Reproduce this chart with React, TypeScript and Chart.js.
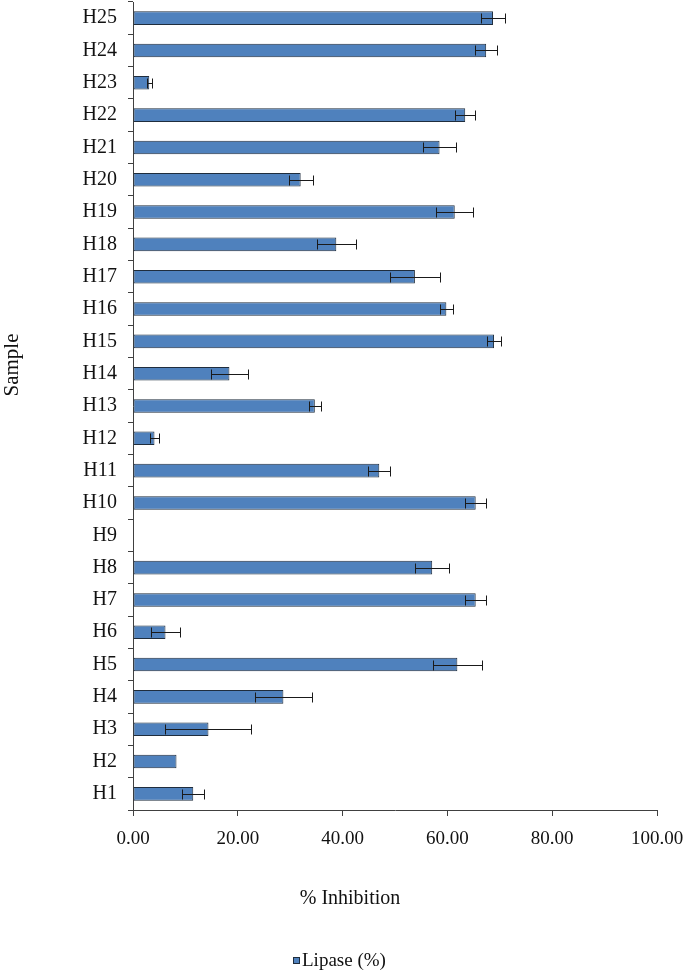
import React, { useEffect, useRef } from "react";
import { Chart, registerables } from "chart.js";

Chart.register(...registerables);

const categories = [
  "H1", "H2", "H3", "H4", "H5", "H6", "H7", "H8", "H9", "H10",
  "H11", "H12", "H13", "H14", "H15", "H16", "H17", "H18", "H19", "H20",
  "H21", "H22", "H23", "H24", "H25",
];

const lipase: (number | null)[] = [
  11.5, 8.3, 14.4, 28.7, 61.9, 6.2, 65.4, 57.1, null, 65.4,
  47.0, 4.1, 34.7, 18.4, 68.9, 59.8, 53.8, 38.8, 61.4, 32.0,
  58.5, 63.4, 3.1, 67.4, 68.7,
];

const lipaseErr = [
  2.1, 0, 8.2, 5.4, 4.7, 2.8, 2.0, 3.3, 0, 2.0,
  2.1, 0.9, 1.2, 3.5, 1.25, 1.25, 4.7, 3.7, 3.5, 2.3,
  3.1, 1.96, 0.46, 2.1, 2.35,
];

const xTicks = [0, 20, 40, 60, 80, 100];

const seriesName = "Lipase (%)";
const xTitle = "% Inhibition";
const yTitle = "Sample";

const SERIF = "'Liberation Serif', 'Times New Roman', serif";
const BAR_FILL = "#4F81BD";
const BAR_EDGE = "#1f2d3d";
const AXIS = "#404040";

const errorBarPlugin = {
  id: "errorBars",
  afterDatasetsDraw(chart: any) {
    const meta = chart.getDatasetMeta(0);
    const xs = chart.scales.x;
    const ctx = chart.ctx;
    ctx.save();
    ctx.strokeStyle = "#1a1a1a";
    ctx.lineWidth = 1;
    meta.data.forEach((bar: any, i: number) => {
      const v = lipase[i];
      const e = lipaseErr[i];
      if (v == null || !e) return;
      const y = Math.round(bar.y) + 0.5;
      const x1 = Math.round(xs.getPixelForValue(v - e)) + 0.5;
      const x2 = Math.round(xs.getPixelForValue(v + e)) + 0.5;
      ctx.beginPath();
      ctx.moveTo(x1, y);
      ctx.lineTo(x2, y);
      ctx.moveTo(x1, y - 5);
      ctx.lineTo(x1, y + 5);
      ctx.moveTo(x2, y - 5);
      ctx.lineTo(x2, y + 5);
      ctx.stroke();
    });
    ctx.restore();
  },
};

const titlesPlugin = {
  id: "titlesLegend",
  afterDraw(chart: any) {
    const ctx = chart.ctx;
    ctx.save();
    ctx.fillStyle = "#111";
    ctx.font = `20px ${SERIF}`;
    ctx.textAlign = "center";
    ctx.textBaseline = "middle";
    ctx.fillText(xTitle, 350, 899);
    ctx.save();
    ctx.translate(12, 365);
    ctx.rotate(-Math.PI / 2);
    ctx.font = `21px ${SERIF}`;
    ctx.fillText(yTitle, 0, 0);
    ctx.restore();
    ctx.fillStyle = BAR_FILL;
    ctx.fillRect(293, 957, 7, 7);
    ctx.strokeStyle = BAR_EDGE;
    ctx.lineWidth = 1;
    ctx.strokeRect(293.5, 957.5, 6, 6);
    ctx.fillStyle = "#111";
    ctx.font = `19px ${SERIF}`;
    ctx.textAlign = "left";
    ctx.fillText(seriesName, 302, 961);
    ctx.restore();
  },
};

export default function App() {
  const canvasRef = useRef<HTMLCanvasElement | null>(null);

  useEffect(() => {
    document.body.style.margin = "0";
    const canvas = canvasRef.current;
    if (!canvas) return;
    const chart = new Chart(canvas, {
      type: "bar",
      data: {
        labels: categories,
        datasets: [
          {
            label: seriesName,
            data: lipase,
            backgroundColor: BAR_FILL,
            borderColor: BAR_EDGE,
            borderWidth: 1,
            borderSkipped: false,
            categoryPercentage: 1,
            barPercentage: 0.42,
          },
        ],
      },
      options: {
        indexAxis: "y",
        responsive: false,
        animation: false,
        devicePixelRatio: 1,
        layout: { padding: { top: 2, right: 28, left: 0, bottom: 0 } },
        plugins: {
          legend: { display: false },
          tooltip: { enabled: false },
          title: { display: false },
        },
        scales: {
          x: {
            type: "linear",
            min: 0,
            max: 100,
            afterBuildTicks: (scale: any) => {
              scale.ticks = xTicks.map((v) => ({ value: v }));
            },
            afterFit: (scale: any) => {
              scale.height = 164;
              scale.paddingLeft = 0;
              scale.paddingRight = 0;
            },
            ticks: {
              color: "#111",
              font: { family: SERIF, size: 19 },
              padding: 12,
              maxRotation: 0,
              callback: (v: any) => Number(v).toFixed(2),
            },
            grid: {
              drawOnChartArea: false,
              drawTicks: true,
              tickLength: 6,
              color: AXIS,
              lineWidth: 1,
            },
            border: { display: true, color: AXIS, width: 1 },
          },
          y: {
            type: "category",
            reverse: true,
            offset: true,
            afterFit: (scale: any) => {
              scale.width = 133;
              scale.paddingTop = 0;
              scale.paddingBottom = 0;
            },
            ticks: {
              color: "#111",
              font: { family: SERIF, size: 20 },
              padding: 11,
            },
            grid: {
              offset: true,
              drawOnChartArea: false,
              drawTicks: true,
              tickLength: 5,
              color: AXIS,
              lineWidth: 1,
            },
            border: { display: true, color: AXIS, width: 1 },
          },
        },
      },
      plugins: [errorBarPlugin, titlesPlugin],
    });
    return () => chart.destroy();
  }, []);

  return (
    <div style={{ width: 685, height: 974, background: "#fff" }}>
      <canvas
        ref={canvasRef}
        width={685}
        height={974}
        style={{ display: "block", width: 685, height: 974 }}
      />
    </div>
  );
}
